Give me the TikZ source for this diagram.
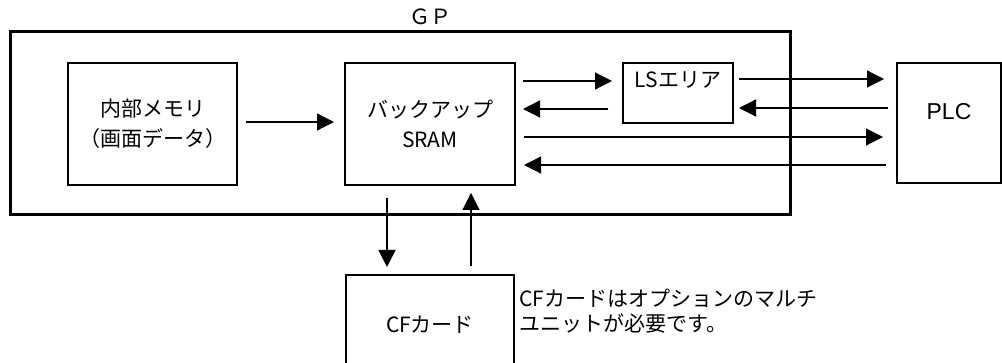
\documentclass[tikz,border=0pt]{standalone}
\usepackage{fontspec}
\setmainfont{Noto Sans CJK JP}
\newfontfamily\plcfont{Liberation Sans}
\usetikzlibrary{arrows.meta,calc}

\begin{document}
\begin{tikzpicture}[x=0.5pt,y=-0.5pt,
    font=\fontsize{10.5}{15}\selectfont,
    blk/.style={draw,line width=1pt,inner sep=0pt,align=center},
    arr/.style={-{Triangle[length=8.5pt,width=8.5pt]},line width=0.6pt}]
    \useasboundingbox (0,0) rectangle (1002,363);
    \clip (0,0) rectangle (1002,363);

    % GP frame
    \node[draw,line width=1.5pt,minimum width=390pt,minimum height=91.5pt] (gp) at (400,123.5) {};
    \node (gplbl) at (430,17) {ＧＰ};

    % Boxes inside GP
    \node[blk,minimum width=84.5pt,minimum height=61pt] (mem) at (152.5,124) {内部メモリ\\（画面データ）};
    \node[blk,minimum width=85pt,minimum height=61pt] (back) at (430,124) {バックアップ\\SRAM};
    \node[blk,minimum width=55pt,minimum height=30pt,text depth=13.5pt] (lsa) at (678,93) {LSエリア};

    % PLC and CF card
    \node[blk,minimum width=52pt,minimum height=60pt,text depth=12pt,
          font=\plcfont\fontsize{11.5}{13}\selectfont] (plc) at (949,123) {PLC};
    \node[blk,minimum width=84pt,minimum height=50pt] (cf) at (430,325) {CFカード};
    \node[anchor=north west,align=left,inner sep=0pt,font=\fontsize{10.5}{12.5}\selectfont]
        (note) at ($(cf.north east)+(4,15)$) {CFカードはオプションのマルチ\\ユニットが必要です。};

    % Arrows
    \draw[arr] ($(mem.east)+(8,-2)$) -- ($(back.west)+(-10,-2)$);
    \draw[arr] ($(back.east)+(7,-43)$) -- ($(lsa.west)+(-10,-12)$);
    \draw[arr] ($(lsa.west)+(-14,16)$) -- ($(back.east)+(7,-15)$);
    \draw[arr] ($(lsa.east)+(5,-14)$) -- ($(plc.west)+(-12,-44)$);
    \draw[arr] ($(plc.west)+(-8,-15)$) -- ($(lsa.east)+(5,15)$);
    \draw[arr] ($(back.east)+(8,13)$) -- ($(plc.west)+(-13,14)$);
    \draw[arr] ($(plc.west)+(-10,42)$) -- ($(back.east)+(8,41)$);
    \draw[arr] ($(back.south)+(-43,12)$) -- ($(cf.north)+(-43,-7)$);
    \draw[arr] ($(cf.north)+(41,-8)$) -- ($(back.south)+(41,7)$);
\end{tikzpicture}
\end{document}
